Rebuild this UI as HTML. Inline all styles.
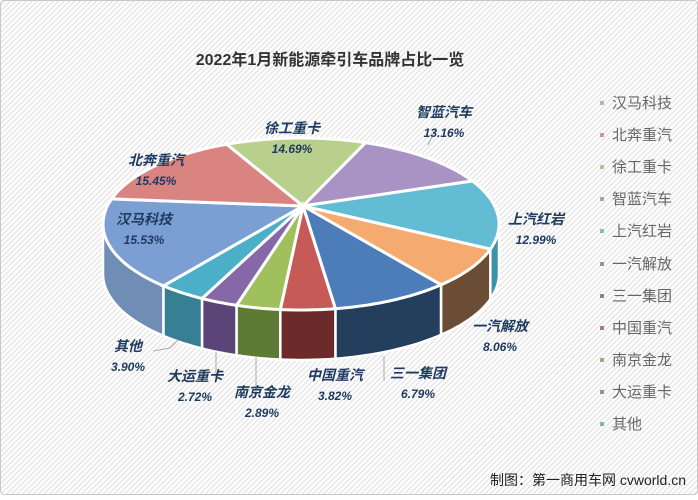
<!DOCTYPE html>
<html><head><meta charset="utf-8"><style>
html,body{margin:0;padding:0}
body{width:698px;height:500px;overflow:hidden;font-family:"Liberation Sans","Noto Sans CJK SC",sans-serif;}
#bg{position:absolute;left:0;top:0;width:696px;height:493px;border:1px solid #c8c8c8;border-radius:4px;
background:repeating-linear-gradient(135deg,#ffffff 0px,#ffffff 2px,#e4e4e4 2.5px,#e4e4e4 3.3px,#ffffff 3.8px);}
#title{position:absolute;left:0;width:660px;top:46px;text-align:center;font-size:16px;font-weight:bold;color:#333;}
.leg{position:absolute;left:612px;font-size:15px;color:#666;}
.mk{position:absolute;left:600px;width:4px;height:4px;opacity:0.6}
#foot{position:absolute;right:12px;top:470px;font-size:14px;color:#222;}
</style></head><body>
<div id="bg"></div>
<div id="title">2022年1月新能源牵引车品牌占比一览</div>
<svg id="pie" width="698" height="500" style="position:absolute;left:0;top:0"></svg>
<div id="legend"></div>
<div id="foot">制图：第一商用车网 cvworld.cn</div>
<script>
var data=[["汉马科技",15.53,"#7b9fd2","#6f8db5"],["北奔重汽",15.45,"#d98481","#a85b58"],["徐工重卡",14.69,"#b8d08c","#8aa35f"],["智蓝汽车",13.16,"#a893c4","#7a6699"],["上汽红岩",12.99,"#62bcd3","#3d93aa"],["一汽解放",8.06,"#f5aa70","#6b4c34"],["三一集团",6.79,"#4d7db8","#243e5e"],["中国重汽",3.82,"#c65a56","#6c2b2a"],["南京金龙",2.89,"#9fc05c","#5f7a34"],["大运重卡",2.72,"#8668a8","#5b4477"],["其他",3.90,"#4bafc8","#377f92"]];
var B=[134,197,248,289,330,377,405,440,456,469,480,494];
var cx=301,cy=224,rx=198,ry=86,ax=303,ay=206,dep=50,s=document.getElementById('pie'),h='';
function P(t){t=t*Math.PI/180;return [cx+rx*Math.cos(t),cy+ry*Math.sin(t)];}
var arr=[];
data.forEach(function(d,i){arr.push([B[i],B[i+1],d]);});
arr.forEach(function(q){
 var segs=[[q[0],q[1]],[q[0]-360,q[1]-360]];
 segs.forEach(function(sg){var a=Math.max(sg[0],0),b=Math.min(sg[1],180);if(b<=a)return;
 var p='M';for(var k=0;k<=20;k++){var pt=P(a+(b-a)*k/20);p+=pt[0].toFixed(1)+','+pt[1].toFixed(1)+' L';}
 for(var k=20;k>=0;k--){var pt=P(a+(b-a)*k/20);p+=pt[0].toFixed(1)+','+(pt[1]+dep).toFixed(1)+(k?' L':' Z');}
 h+='<path d="'+p+'" fill="'+q[2][3]+'" stroke="#fff" stroke-width="2.5"/>';});
});
arr.forEach(function(q){
 var p='M'+ax+','+ay+' L';
 for(var k=0;k<=30;k++){var pt=P(q[0]+(q[1]-q[0])*k/30);p+=pt[0].toFixed(1)+','+pt[1].toFixed(1)+(k<30?' L':' Z');}
 h+='<path d="'+p+'" fill="'+q[2][2]+'" stroke="#fff" stroke-width="3"/>';
});
var L=[[144,224,0],[156,165,1],[292,133,2],[444,117,3],[536,224,4],[500,331,5],[418,378,6],[335,380,7],[262,397,8],[195,381,9],[128,351,10]];
h+='<g stroke="#aaa" fill="none"><path d="M428,145 L436,128"/><path d="M153,351 L170,348 L178,340"/><path d="M216,352 L216,378"/><path d="M256,356 L256,396"/><path d="M384,356 L384,381"/></g>';
L.forEach(function(l){var d=data[l[2]];
 h+='<text x="'+l[0]+'" y="'+l[1]+'" text-anchor="middle" font-size="14" font-weight="bold" font-style="italic" fill="#1f3a60">'+d[0]+'</text>';
 h+='<text x="'+l[0]+'" y="'+(l[1]+20)+'" text-anchor="middle" font-size="12" font-weight="bold" font-style="italic" fill="#1f3a60">'+d[1].toFixed(2)+'%</text>';});
s.innerHTML=h;
var lg='';data.forEach(function(d,i){var y=92+i*32.1;lg+='<div class="mk" style="top:'+(y+9)+'px;background:'+d[3]+'"></div><div class="leg" style="top:'+y+'px">'+d[0]+'</div>';});
document.getElementById('legend').innerHTML=lg;
</script>
</body></html>
